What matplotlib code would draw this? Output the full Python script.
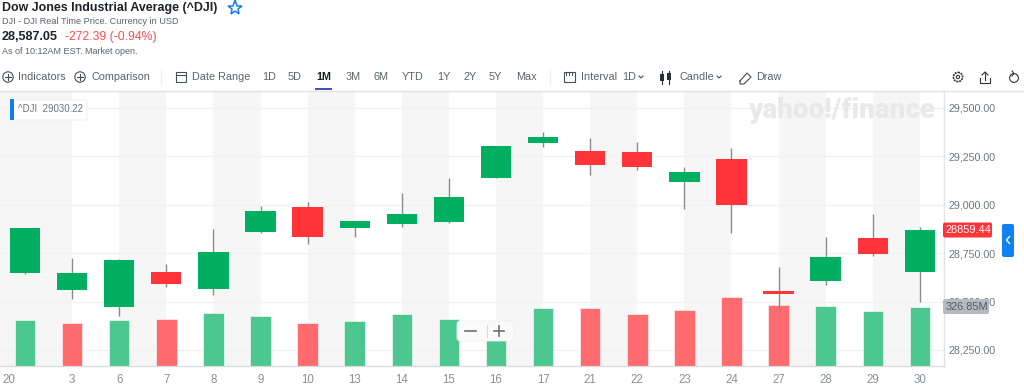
#!/usr/bin/env python3
"""Dow Jones 1M candle chart, Yahoo Finance style."""
import matplotlib
matplotlib.use("Agg")
import matplotlib.pyplot as plt
from matplotlib.patches import Circle, FancyBboxPatch, Rectangle

W, H = 1024, 386

days = ["20", "3", "6", "7", "8", "9", "10", "13", "14", "15", "16", "17", "21", "22", "23", "24", "27", "28", "29", "30"]
body_top = [28881, 28645, 28714, 28651, 28757, 28967, 28989, 28915, 28950, 29039, 29302, 29350, 29275, 29270, 29167, 29235, 28553, 28731, 28829, 28867]
body_bot = [28647, 28561, 28470, 28590, 28564, 28859, 28834, 28878, 28901, 28912, 29137, 29318, 29203, 29194, 29117, 28998, 28539, 28604, 28745, 28651]
highs = [28881, 28724, 28718, 28695, 28874, 28994, 29015, 28917, 29060, 29137, 29304, 29375, 29344, 29323, 29194, 29292, 28678, 28831, 28952, 28886]
lows = [28640, 28511, 28427, 28575, 28534, 28855, 28798, 28833, 28884, 28907, 29135, 29299, 29153, 29179, 28977, 28855, 28447, 28584, 28736, 28499]
is_up = [1, 1, 1, 0, 1, 1, 0, 1, 1, 1, 1, 1, 0, 0, 1, 0, 0, 1, 0, 1]
volumes = [252.6, 237, 252.6, 258, 293, 275, 237, 247, 289, 261, 245, 321, 321, 286, 308, 381, 336, 331, 303, 326.85]
vol_up = [1, 0, 1, 0, 1, 1, 0, 1, 1, 1, 1, 1, 0, 0, 0, 0, 0, 1, 1, 1]
price_ticks = [28250, 28500, 28750, 29000, 29250, 29500]

GREEN, RED = "#00b061", "#ff333a"
plt.rcParams["font.family"] = ["Liberation Sans", "DejaVu Sans"]

fig = plt.figure(figsize=(W / 100, H / 100), dpi=100)

# ----- chart area ------------------------------------------------
left, right, top, bottom = 0, 944, 91, 365.5
rect = [left / W, 1 - bottom / H, (right - left) / W, (bottom - top) / H]
bg = fig.add_axes(rect, zorder=1)
vol = fig.add_axes(rect, zorder=2, sharex=bg)
ax = fig.add_axes(rect, zorder=3, sharex=bg)
vol.patch.set_visible(False)
ax.patch.set_visible(False)

x = list(range(len(days)))
bg.set_xlim(-0.531, 19.512)
vol.set_ylim(0, 1533.6)
ax.set_ylim(28170, 29586)
bg.set_ylim(28170, 29586)

# alternating day bands and grid sit behind the volume bars
bg.axvspan(-0.531, 1, color="#f6f6f6", lw=0, zorder=0)
for i in range(2, 19, 2):
    bg.axvspan(i, i + 1, color="#f6f6f6", lw=0, zorder=0)
for t in price_ticks:
    bg.axhline(t, color="#f1f2f3", lw=1, zorder=1)
bg.set_yticks([])
vol.set_yticks([])

vol.bar(x, volumes, width=0.435, color=["#4cc790" if u else "#ff6b6e" for u in vol_up],
        edgecolor="#ffffff", linewidth=0.4)

ax.vlines(x, lows, highs, color="#868c92", lw=1, zorder=3)
ax.bar(x, [t - b for t, b in zip(body_top, body_bot)], bottom=body_bot, width=0.645, zorder=4,
       color=[GREEN if u else RED for u in is_up])

ax.yaxis.tick_right()
ax.set_yticks(price_ticks)
ax.set_yticklabels([f"{t:,.2f}" for t in price_ticks], fontsize=7.7, color="#6e7480")
ax.tick_params(axis="y", length=0, pad=3.4)
bg.set_xticks([-0.34] + x[1:])
bg.set_xticklabels(days, fontsize=8.3, color="#8a8f99")
bg.tick_params(axis="x", length=0, pad=6)
vol.tick_params(axis="x", length=0, labelbottom=False)
ax.tick_params(axis="x", length=0, labelbottom=False)
for a in (bg, vol, ax):
    for s in ("top", "left"):
        a.spines[s].set_visible(False)
    a.spines["right"].set_color("#e0e3e8")
    a.spines["bottom"].set_color("#d8dbe0")

# ----- page chrome, in pixels ------------------------------------
ov = fig.add_axes([0, 0, 1, 1], zorder=10)
ov.set_xlim(0, W)
ov.set_ylim(H, 0)
ov.axis("off")


def label(px, py, s, size=7.8, color="#5b636a", **kw):
    ov.text(px, py, s, fontsize=size, color=color, va="center", **kw)


def plus_icon(cx, cy):
    ov.add_patch(Circle((cx, cy), 5.2, fill=False, ec="#464e56", lw=0.8))
    ov.plot([cx - 2.8, cx + 2.8], [cy, cy], color="#464e56", lw=0.8)
    ov.plot([cx, cx], [cy - 2.8, cy + 2.8], color="#464e56", lw=0.8)


label(2, 8, "Dow Jones Industrial Average (^DJI)", 8.9, "#1d2228", fontweight="bold")
ov.plot([235], [8], marker="*", ms=11, mfc="none", mec="#0f7ff0", mew=1.1)
label(2, 22, "DJI - DJI Real Time Price. Currency in USD", 6.6)
label(2, 37, "28,587.05", 9.1, "#1d2228", fontweight="bold")
label(65, 37, "-272.39 (-0.94%)", 8.85, "#ff4d52")
label(2, 51, "As of 10:12AM EST. Market open.", 6.5)

plus_icon(8, 77)
label(18, 77, "Indicators")
plus_icon(80, 77)
label(91, 77, "Comparison")
ov.plot([161, 161], [70, 85], color="#eef0f2", lw=1)

# calendar icon
ov.add_patch(Rectangle((176, 72), 10, 10, fill=False, ec="#464e56", lw=0.8))
ov.plot([176, 186], [75, 75], color="#464e56", lw=0.8)
label(192, 77, "Date Range")
ranges = ["1D", "5D", "1M", "3M", "6M", "YTD", "1Y", "2Y", "5Y", "Max"]
range_x = [262, 288, 316, 346, 374, 402, 437, 463, 489, 516]
for rx, r in zip(range_x, ranges):
    if r == "1M":
        label(rx, 77, r, color="#1d2228", fontweight="bold")
    else:
        label(rx, 77, r)
ov.add_patch(Rectangle((315, 88), 17, 2.4, color="#4a4fc0", lw=0))
ov.plot([550, 550], [70, 85], color="#eef0f2", lw=1)

# interval icon
ov.add_patch(Rectangle((564, 72), 11, 10, fill=False, ec="#464e56", lw=0.8))
ov.plot([566, 566], [72, 75], color="#464e56", lw=0.7)
ov.plot([569, 569], [72, 75], color="#464e56", lw=0.7)
ov.plot([572, 572], [72, 75], color="#464e56", lw=0.7)
label(581, 77, "Interval")
label(622, 77, "1D")
ov.plot([639, 641, 643], [76, 78, 76], color="#464e56", lw=0.8)

# candle icon
ov.plot([662, 662], [71, 84], color="#2a2f35", lw=0.8)
ov.plot([669, 669], [71, 84], color="#2a2f35", lw=0.8)
ov.add_patch(Rectangle((660, 74), 4, 7, color="#2a2f35", lw=0))
ov.add_patch(Rectangle((667, 73), 4, 7, color="#2a2f35", lw=0))
label(679, 77, "Candle")
ov.plot([717, 719, 721], [76, 78, 76], color="#464e56", lw=0.8)

# draw icon
ov.plot([740, 747, 751, 744, 740, 740], [81, 73, 77, 84, 84, 81], color="#464e56", lw=0.8)
label(756, 77, "Draw")

# settings, share, reset
ov.add_patch(Circle((958, 77), 4.6, fill=False, ec="#2f353b", lw=1.2, ls=(0, (1.2, 0.5))))
ov.add_patch(Circle((958, 77), 1.6, fill=False, ec="#2f353b", lw=0.8))
ov.plot([980, 980, 990, 990], [78, 83, 83, 78], color="#2f353b", lw=0.8)
ov.plot([985, 985], [72, 80], color="#2f353b", lw=0.8)
ov.plot([982, 985, 988], [75, 72, 75], color="#2f353b", lw=0.8)
ov.add_patch(Circle((1014, 78), 4.4, fill=False, ec="#2f353b", lw=0.8))
ov.plot([1012, 1014, 1012], [71, 73.5, 76], color="#2f353b", lw=0.8)
ov.plot([0, W], [90.5, 90.5], color="#e0e3e8", lw=1)

# legend chip
ov.add_patch(FancyBboxPatch((11, 100), 76, 20, boxstyle="round,pad=0,rounding_size=2", fc="#ffffff", ec="#eeeeee", lw=0.6))
ov.add_patch(Rectangle((10, 99), 3.5, 21, color="#0f7ff0", lw=0))
label(18, 109.5, "^DJI  29030.22", 7.0, "#6e7480")

# watermark
label(748, 110, "yahoo!/finance", 20, "#e9e9ea", family="Roboto", fontweight="black", zorder=1)

# zoom control
ov.add_patch(FancyBboxPatch((457, 321), 57, 20, boxstyle="round,pad=0,rounding_size=3", fc="#fafafa", ec="#f0f0f0", lw=0.6))
ov.plot([465, 476], [330.5, 330.5], color="#6a7078", lw=1.2)
ov.plot([486.5, 486.5], [325, 337], color="#d8dbe0", lw=0.8)
ov.plot([494, 504], [330.5, 330.5], color="#6a7078", lw=1.2)
ov.plot([499, 499], [325.5, 335.5], color="#6a7078", lw=1.2)

# last price and volume flags
ov.add_patch(FancyBboxPatch((943, 222.5), 49, 15, boxstyle="round,pad=0,rounding_size=2", fc=RED, ec="none"))
label(945.5, 230, "28859.44", 7.9, "#ffffff")
ov.add_patch(FancyBboxPatch((943, 299), 46, 15, boxstyle="round,pad=0,rounding_size=2", fc="#b4bac3", ec="none"))
label(946, 306.5, "326.85M", 7.9, "#555b64")
ov.add_patch(FancyBboxPatch((1002, 224), 12, 33, boxstyle="round,pad=0,rounding_size=2", fc="#0f81f0", ec="none"))
ov.plot([1009.5, 1006.5, 1009.5], [236.5, 240, 243.5], color="#ffffff", lw=1)

fig.savefig("out.png", dpi=100)
